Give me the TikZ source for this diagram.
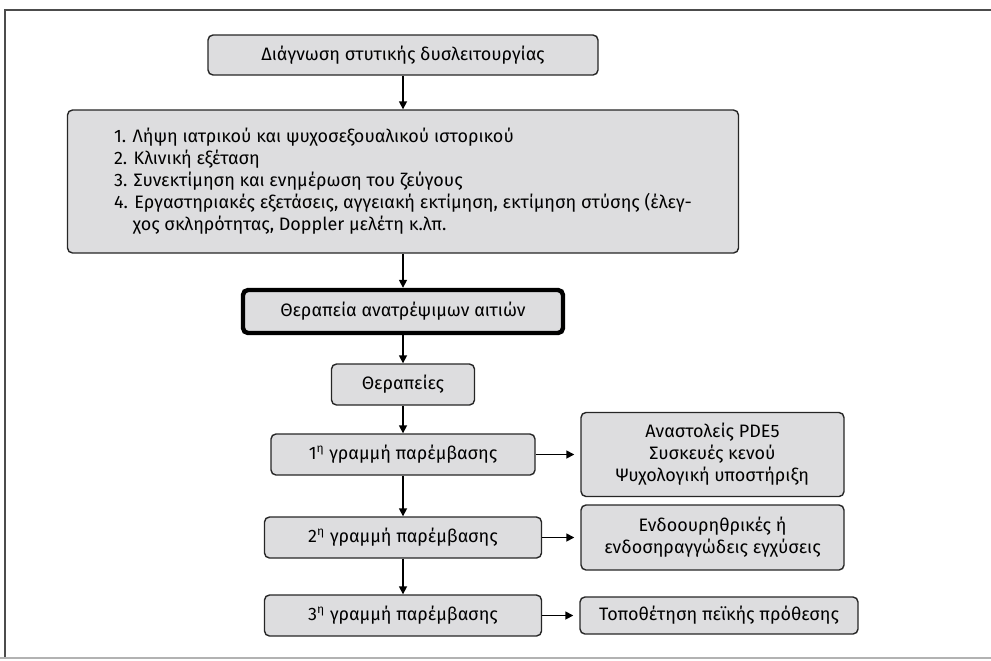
\documentclass[tikz,border=0pt]{standalone}
\usepackage{fontspec}
\setmainfont{Fira Sans}
\usetikzlibrary{positioning}
\usetikzlibrary{arrows.meta}
\definecolor{boxgray}{RGB}{221,221,223}
\tikzstyle{flow}=[rectangle,rounded corners=2.5pt,draw=black!85,line width=0.7pt,fill=boxgray,inner sep=0pt,font=\fontsize{9}{11}\selectfont,align=center]
\tikzstyle{cause}=[flow,draw=black,line width=2.2pt]
\tikzstyle{link}=[->,line width=0.8pt]

\begin{document}
\begin{tikzpicture}[x=0.5pt,y=-0.5pt,>={Triangle[length=4pt,width=4pt]}]
	\useasboundingbox (0,0) rectangle (991,660);
	% frame
	\draw[line width=1pt,black!70] (5,658) -- (5,10) -- (991,10);
	\draw[line width=1pt,black!30] (0,658) -- (991,658);
	
	\node [flow, minimum width=195pt, minimum height=20pt] (diag) at (403,55) {Διάγνωση στυτικής δυσλειτουργίας};
	\node [flow, minimum width=335.5pt, minimum height=71.5pt, align=left] (hist) at (403,181.5) {1. Λήψη ιατρικού και ψυχοσεξουαλικού ιστορικού\\
		2. Κλινική εξέταση\\
		3. Συνεκτίμηση και ενημέρωση του ζεύγους\\
		4. Εργαστηριακές εξετάσεις, αγγειακή εκτίμηση, εκτίμηση στύσης (έλεγ-\\
		\hphantom{4.~}χος σκληρότητας, Doppler μελέτη κ.λπ.};
	\node [cause, minimum width=160pt, minimum height=21.5pt] (cause) at (403,311.5) {Θεραπεία ανατρέψιμων αιτιών};
	\node [flow, minimum width=71.5pt, minimum height=20.5pt] (ther) at (403,384.5) {Θεραπείες};
	
	\node [flow, minimum width=132pt, minimum height=20.5pt] (line1) at (403,454.5) {1\textsuperscript{η} γραμμή παρέμβασης};
	\node [flow, minimum width=138.5pt, minimum height=20.5pt] (line2) at (403,537.5) {2\textsuperscript{η} γραμμή παρέμβασης};
	\node [flow, minimum width=138.5pt, minimum height=20.5pt] (line3) at (403,615.5) {3\textsuperscript{η} γραμμή παρέμβασης};
	
	\node [flow, minimum width=131.5pt, minimum height=42pt] (drugs) at (712.5,454.5) {Αναστολείς PDE5\\Συσκευές κενού\\Ψυχολογική υποστήριξη};
	\node [flow, minimum width=131.5pt, minimum height=32.5pt] (inject) at (712.5,537.5) {Ενδοουρηθρικές ή\\ενδοσηραγγώδεις εγχύσεις};
	\node [flow, minimum width=139pt, minimum height=18.5pt] (prosth) at (719,615.5) {Τοποθέτηση πεϊκής πρόθεσης};
	
	\draw[link] (diag) -- (hist);
	\draw[link] (hist) -- (cause);
	\draw[link] (cause) -- (ther);
	\draw[link] (ther) -- (line1);
	\draw[link] (line1) -- (line2);
	\draw[link] (line2) -- (line3);
	
	\draw[link,shorten >=3pt] (line1) -- (drugs);
	\draw[link,shorten >=3pt] (line2) -- (inject);
	\draw[link,shorten >=3pt] (line3) -- (prosth);
\end{tikzpicture}
\end{document}
